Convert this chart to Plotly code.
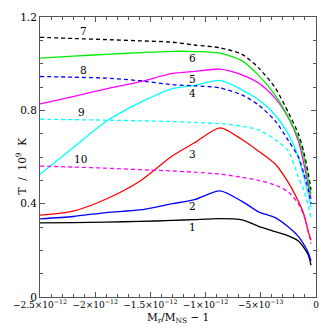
import plotly.graph_objects as go

# x in units of 1e-12 (M_r/M_NS - 1)
x = [-2.5, -2.2, -1.9, -1.6, -1.3, -1.1, -0.87, -0.67, -0.52, -0.37, -0.25, -0.16, -0.11, -0.07, -0.045]

t1 = [0.318, 0.319, 0.321, 0.324, 0.328, 0.332, 0.336, 0.331, 0.303, 0.28, 0.262, 0.24, 0.212, 0.18, 0.136]
t2 = [0.335, 0.345, 0.362, 0.373, 0.400, 0.417, 0.455, 0.41, 0.365, 0.34, 0.30, 0.26, 0.225, 0.19, 0.155]
t3 = [0.351, 0.368, 0.42, 0.495, 0.605, 0.661, 0.725, 0.675, 0.625, 0.57, 0.49, 0.41, 0.355, 0.28, 0.243]
t4 = [0.526, 0.64, 0.753, 0.832, 0.893, 0.907, 0.928, 0.888, 0.845, 0.78, 0.697, 0.60, 0.514, 0.44, 0.386]
t5 = [0.828, 0.859, 0.892, 0.922, 0.958, 0.967, 0.977, 0.952, 0.917, 0.852, 0.767, 0.67, 0.571, 0.48, 0.42]
t6 = [1.024, 1.032, 1.04, 1.047, 1.053, 1.052, 1.045, 1.012, 0.95, 0.865, 0.77, 0.68, 0.60, 0.50, 0.44]
t7 = [1.113, 1.108, 1.103, 1.098, 1.092, 1.08, 1.068, 1.04, 0.982, 0.897, 0.79, 0.70, 0.62, 0.53, 0.46]
t8 = [0.945, 0.942, 0.938, 0.927, 0.91, 0.905, 0.896, 0.866, 0.823, 0.755, 0.67, 0.60, 0.529, 0.46, 0.40]
t9 = [0.762, 0.760, 0.758, 0.755, 0.752, 0.748, 0.743, 0.732, 0.716, 0.675, 0.625, 0.515, 0.457, 0.39, 0.336]
t10 = [0.561, 0.557, 0.552, 0.546, 0.54, 0.535, 0.527, 0.513, 0.50, 0.48, 0.45, 0.40, 0.35, 0.28, 0.229]

curves = [t1, t2, t3, t4, t5, t6, t7, t8, t9, t10]
colors = ['black', 'blue', 'red', 'cyan', 'magenta', '#00ee00', 'black', 'blue', 'cyan', 'magenta']
dashed = [False] * 6 + [True] * 4

label_text = ['1', '2', '3', '4', '5', '6', '7', '8', '9', '10']
label_x = [-1.118, -1.118, -1.118, -1.118, -1.118, -1.118, -2.11, -2.11, -2.12, -2.13]
label_y = [0.298, 0.39, 0.613, 0.874, 0.935, 1.024, 1.138, 0.974, 0.792, 0.591]

xtick_vals = [-2.5, -2.0, -1.5, -1.0, -0.5, 0.0]
xtick_text = ['\u22122.5\u00d710<sup>\u221212</sup>', '\u22122\u00d710<sup>\u221212</sup>',
              '\u22121.5\u00d710<sup>\u221212</sup>', '\u22121\u00d710<sup>\u221212</sup>',
              '\u22125\u00d710<sup>\u221213</sup>', '0']
ytick_vals = [0, 0.4, 0.8, 1.2]
ytick_text = ['0', '0.4', '0.8', '1.2']

font = 'DejaVu Serif'
nb = '\u00a0'

fig = go.Figure()
for y, c, d in zip(curves, colors, dashed):
    fig.add_trace(go.Scatter(
        x=x, y=y, mode='lines',
        line=dict(color=c, width=1.3, dash='4px,3px' if d else 'solid',
                  shape='spline', smoothing=0.7),
        showlegend=False
    ))

for t, lx, ly in zip(label_text, label_x, label_y):
    fig.add_annotation(x=lx, y=ly, text=t, showarrow=False,
                       font=dict(family=font, size=10.5, color='black'))

# page body has an 8px margin, so the figure is drawn 8px in from the corner
fig.add_annotation(x=0.5, y=-0.108, xref='paper', yref='paper',
                   text='M<sub>r</sub>/M<sub>NS</sub> \u2212 1', showarrow=False,
                   font=dict(family=font, size=10.5, color='black'))
fig.add_annotation(x=-0.098, y=0.468, xref='paper', yref='paper',
                   text='T' + nb * 2 + '/' + nb * 2 + '10<sup>9</sup>' + nb * 2 + 'K',
                   showarrow=False, textangle=-90,
                   font=dict(family=font, size=10.5, color='black'))

axis_common = dict(showline=True, linecolor='#555', linewidth=1, mirror='ticks',
                   ticks='inside', ticklen=5, tickcolor='#555', showgrid=False,
                   zeroline=False, automargin=False, tickangle=0)

fig.update_xaxes(range=[-2.5, 0], tickmode='array', tickvals=xtick_vals, ticktext=xtick_text,
                 ticklabelstandoff=-1, ticklabeloverflow='allow',
                 tickfont=dict(family=font, size=9, color='black'),
                 minor=dict(tickmode='linear', tick0=0, dtick=0.1, ticks='inside', ticklen=3,
                            tickcolor='#555'),
                 **axis_common)
fig.update_yaxes(range=[0, 1.2], tickmode='array', tickvals=ytick_vals, ticktext=ytick_text,
                 tickfont=dict(family=font, size=10.5, color='black'),
                 minor=dict(tickmode='linear', tick0=0, dtick=0.1, ticks='inside', ticklen=3,
                            tickcolor='#555'),
                 **axis_common)

fig.update_layout(
    width=324, height=325,
    margin=dict(l=32, r=16, t=9, b=36),
    plot_bgcolor='white', paper_bgcolor='white',
)

fig.write_html("out.html")
